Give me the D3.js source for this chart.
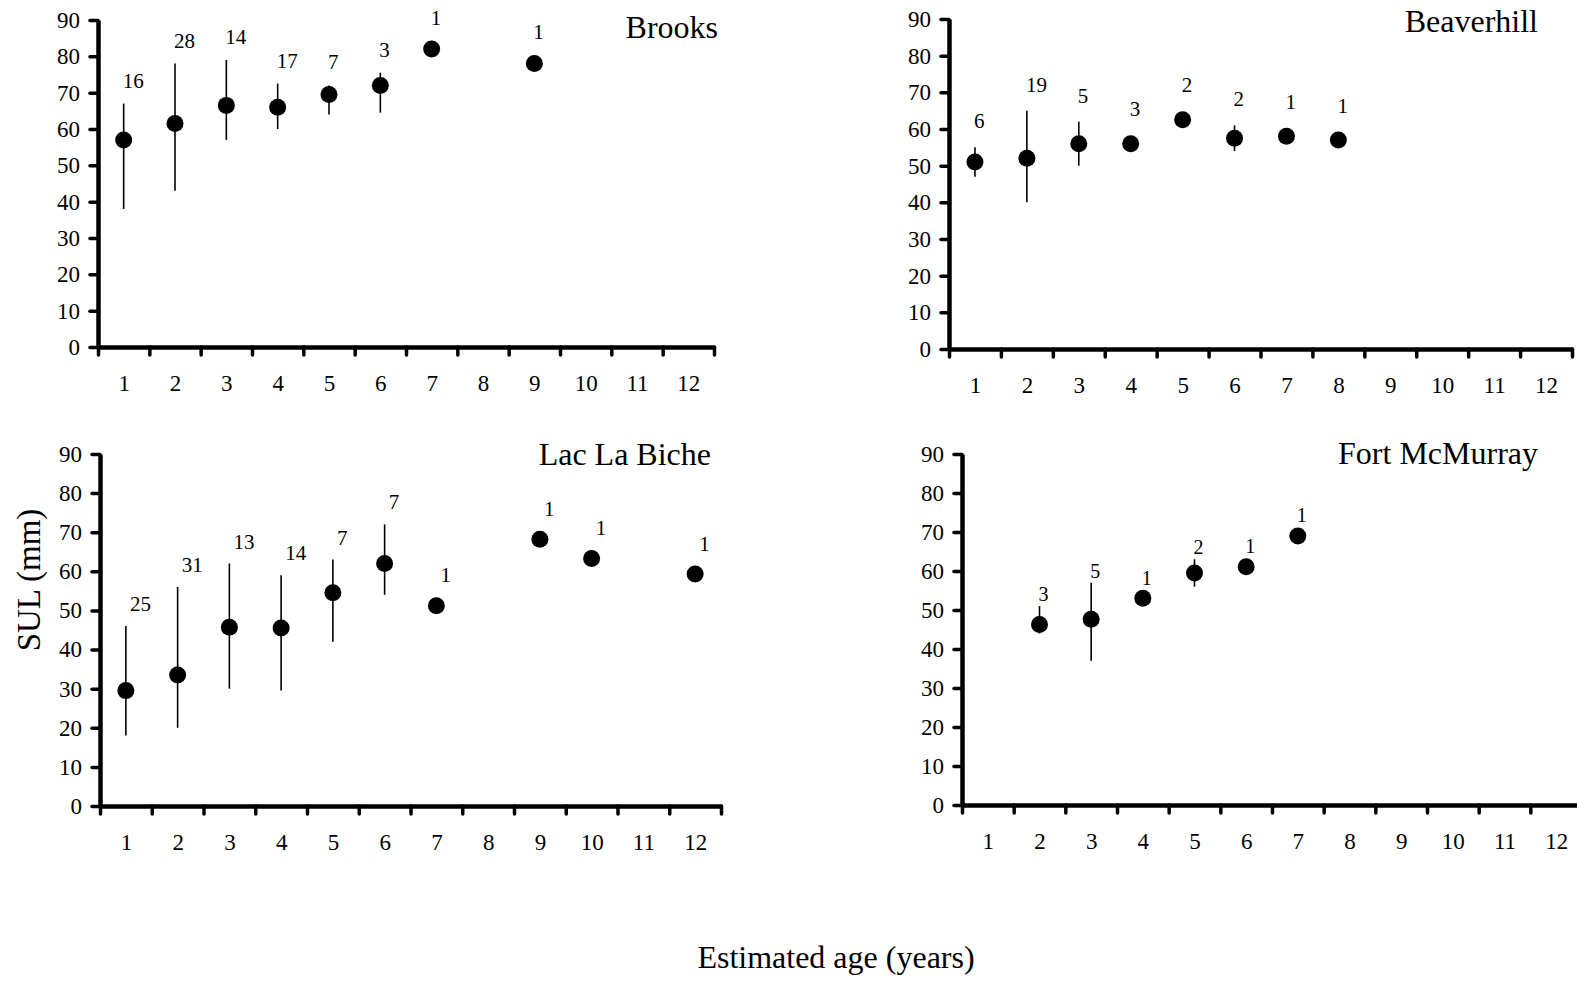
<!DOCTYPE html>
<html>
<head>
<meta charset="utf-8">
<script src="https://cdn.jsdelivr.net/npm/d3@7"></script>
<style>
  body { margin: 0; background: #fff; }
  svg { display: block; font-family: "Liberation Serif", "Times New Roman", serif; }
</style>
</head>
<body>
<svg id="chart" width="1577" height="981"></svg>
<script>
// tick labels
const ageTicks = [1, 2, 3, 4, 5, 6, 7, 8, 9, 10, 11, 12];
const sulTicks = [0, 10, 20, 30, 40, 50, 60, 70, 80, 90];

// Brooks
const brooksAge = [1, 2, 3, 4, 5, 6, 7, 9];
const brooksMean = [57, 61.5, 66.5, 66, 69.5, 72, 82, 78];
const brooksLow = [38, 43, 57, 60, 64, 64.5, null, null];
const brooksHigh = [67, 78, 79, 72.5, 72, 75.5, null, null];
const brooksN = [16, 28, 14, 17, 7, 3, 1, 1];

// Beaverhill
const beaverAge = [1, 2, 3, 4, 5, 6, 7, 8];
const beaverMean = [51, 52, 56, 56, 62.5, 57.5, 58, 57];
const beaverLow = [47, 40, 50, null, null, 54, null, null];
const beaverHigh = [55, 65, 62, null, null, 61, null, null];
const beaverN = [6, 19, 5, 3, 2, 2, 1, 1];

// Lac La Biche
const lacAge = [1, 2, 3, 4, 5, 6, 7, 9, 10, 12];
const lacMean = [29.5, 33.5, 45.7, 45.5, 54.5, 62, 51.2, 68.2, 63.3, 59.3];
const lacLow = [18, 20, 30, 29.5, 42, 54, null, null, null, null];
const lacHigh = [46, 56, 62, 59, 63, 72, null, null, null, null];
const lacN = [25, 31, 13, 14, 7, 7, 1, 1, 1, 1];

// Fort McMurray
const fortAge = [2, 3, 4, 5, 6, 7];
const fortMean = [46.3, 47.6, 53, 59.5, 61.1, 69];
const fortLow = [44, 37, null, 56, null, null];
const fortHigh = [51, 57, null, 63, null, null];
const fortN = [3, 5, 1, 2, 1, 1];

const panels = [
  { title: 'Brooks', age: brooksAge, mean: brooksMean, low: brooksLow, high: brooksHigh, n: brooksN,
    left: 98, right: 714, bottom: 347, top: 20, titleX: 718, titleY: 38, gap: 16, dx: -1, nSize: 21 },
  { title: 'Beaverhill', age: beaverAge, mean: beaverMean, low: beaverLow, high: beaverHigh, n: beaverN,
    left: 949, right: 1572, bottom: 349, top: 19, titleX: 1538, titleY: 32, gap: 19, dx: -1, nSize: 21 },
  { title: 'Lac La Biche', age: lacAge, mean: lacMean, low: lacLow, high: lacHigh, n: lacN,
    left: 100, right: 721, bottom: 806, top: 454, titleX: 711, titleY: 465, gap: 15, dx: 4, nSize: 21 },
  { title: 'Fort McMurray', age: fortAge, mean: fortMean, low: fortLow, high: fortHigh, n: fortN,
    left: 962, right: 1582, bottom: 805, top: 454, titleX: 1538, titleY: 464, gap: 5, dx: -1, nSize: 20 },
];

const svg = d3.select('#chart');
svg.append('rect').attr('width', 1577).attr('height', 981).attr('fill', '#fff');

const r = 8.5;
const serif = '"Liberation Serif", "Times New Roman", serif';

panels.forEach((p) => {
  const x = d3.scaleLinear().domain([0.5, 12.5]).range([p.left, p.right]);
  const y = d3.scaleLinear().domain([0, 90]).range([p.bottom, p.top]);
  const g = svg.append('g');

  // x axis: tick marks on category boundaries, labels at category centres
  const xAxis = g.append('g')
    .attr('transform', `translate(0,${p.bottom})`)
    .call(d3.axisBottom(x).tickValues(d3.range(0.5, 13, 1)).tickSize(8).tickSizeOuter(0).tickFormat(''));
  xAxis.select('.domain').attr('stroke-width', 4.5);
  xAxis.selectAll('.tick line').attr('stroke-width', 3.5).attr('stroke-linecap', 'round');

  g.append('g')
    .attr('transform', `translate(0,${p.bottom})`)
    .call(d3.axisBottom(x).tickValues(ageTicks).tickSize(0).tickPadding(28))
    .call((a) => a.select('.domain').remove())
    .selectAll('text')
    .attr('font-size', 23)
    .attr('fill', '#000')
    .attr('font-family', serif);

  // y axis
  const yAxis = g.append('g')
    .attr('transform', `translate(${p.left},0)`)
    .call(d3.axisLeft(y).tickValues(sulTicks).tickSize(8).tickSizeOuter(0).tickPadding(10));
  yAxis.select('.domain').attr('stroke-width', 4.5);
  yAxis.selectAll('.tick line').attr('stroke-width', 3.5).attr('stroke-linecap', 'round');
  yAxis.selectAll('text')
    .attr('font-size', 23)
    .attr('fill', '#000')
    .attr('font-family', serif);

  const pts = p.age.map((a, i) => ({ age: a, mean: p.mean[i], low: p.low[i], high: p.high[i], n: p.n[i] }));

  // error bars
  g.selectAll('line.err')
    .data(pts.filter((d) => d.low !== null))
    .enter()
    .append('line')
    .attr('class', 'err')
    .attr('x1', (d) => x(d.age))
    .attr('x2', (d) => x(d.age))
    .attr('y1', (d) => y(d.low))
    .attr('y2', (d) => y(d.high))
    .attr('stroke', '#000')
    .attr('stroke-width', 1.6);

  g.selectAll('circle')
    .data(pts)
    .enter()
    .append('circle')
    .attr('cx', (d) => x(d.age))
    .attr('cy', (d) => y(d.mean))
    .attr('r', r)
    .attr('fill', '#000');

  // sample sizes
  g.selectAll('text.n')
    .data(pts)
    .enter()
    .append('text')
    .attr('class', 'n')
    .attr('x', (d) => x(d.age) + p.dx)
    .attr('y', (d) => Math.min(d.high !== null ? y(d.high) : Infinity, y(d.mean) - r) - p.gap)
    .attr('font-size', p.nSize)
    .attr('text-anchor', 'start')
    .text((d) => d.n);

  g.append('text')
    .attr('x', p.titleX)
    .attr('y', p.titleY)
    .attr('text-anchor', 'end')
    .attr('font-size', 32)
    .text(p.title);
});

svg.append('text')
  .attr('transform', 'translate(40,580) rotate(-90)')
  .attr('text-anchor', 'middle')
  .attr('font-size', 33)
  .text('SUL (mm)');

svg.append('text')
  .attr('x', 836)
  .attr('y', 968)
  .attr('text-anchor', 'middle')
  .attr('font-size', 32)
  .text('Estimated age (years)');
</script>
</body>
</html>
